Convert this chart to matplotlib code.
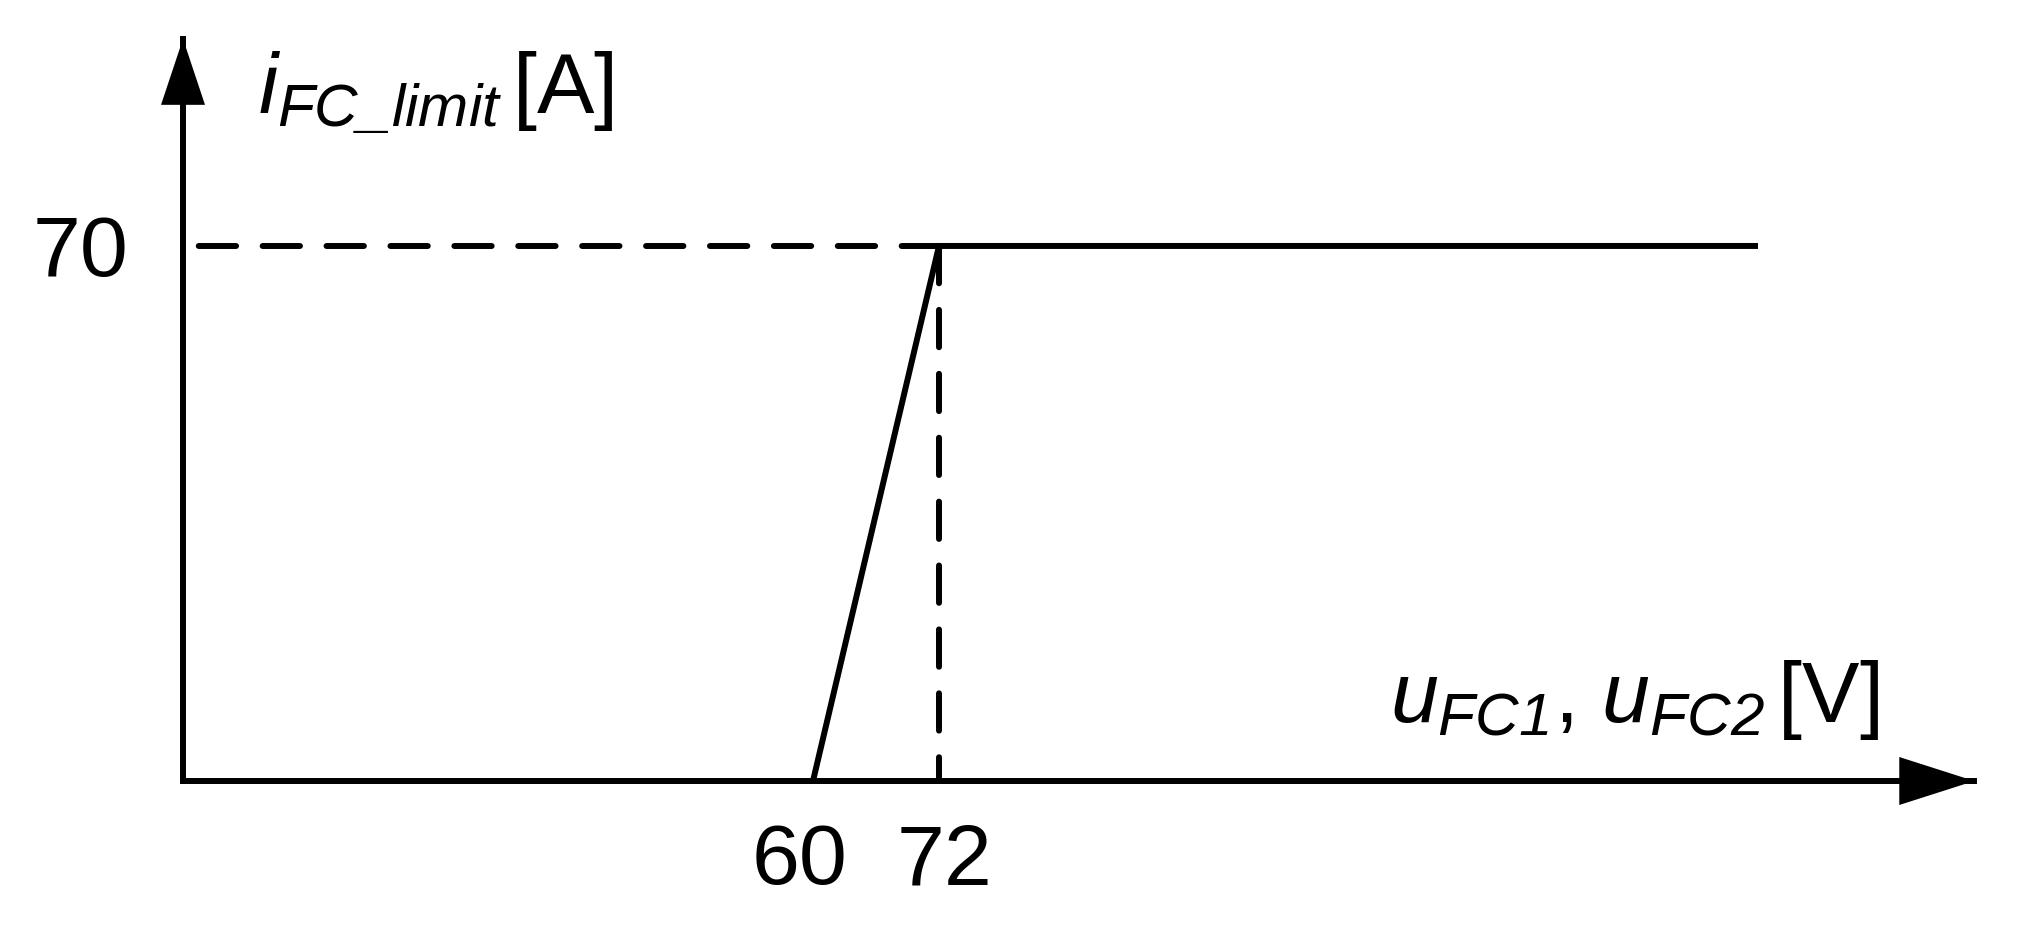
import matplotlib
matplotlib.use("Agg")
import matplotlib.pyplot as plt
from matplotlib.patches import Polygon
from matplotlib.transforms import IdentityTransform

# ---------------- data ----------------
curve_u = [60, 72, 150]          # u_FC [V]
curve_i = [0, 70, 70]            # i_FC_limit [A]
ref_u = 72                       # dashed reference voltage
ref_i = 70                       # dashed reference current
x_tick_values = [60, 72]
x_tick_labels = ["60", "72"]
y_tick_values = [70]
y_tick_labels = ["70"]
x_label = r"$u_{FC1}$, $u_{FC2}\,$[V]"
y_label = r"$i_{FC\_limit}\,$[A]"

# ---------------- style ----------------
W, H, DPI = 2021, 926, 100
plt.rcParams['font.family'] = ['Liberation Sans', 'DejaVu Sans']
plt.rcParams['mathtext.fontset'] = 'custom'
plt.rcParams['mathtext.rm'] = 'Liberation Sans:italic'
plt.rcParams['mathtext.it'] = 'Liberation Sans:italic'
plt.rcParams['mathtext.bf'] = 'Liberation Sans:bold'
plt.rcParams['mathtext.default'] = 'it'

FS = 62
AX_LW = 4.3
LINE_LW = 4.3
DASH = (0, (6.25, 4.45))

fig = plt.figure(figsize=(W / DPI, H / DPI), dpi=DPI)
ax = fig.add_axes([0, 0, 1, 1])
ax.set_xlim(-17.43, 175.05)
ax.set_ylim(-18.97, 102.18)
ax.axis('off')

X_END = 170.6   # axis extents (arrow tips)
Y_END = 97.1

# axes lines
ax.plot([0, X_END], [0, 0], color='black', lw=AX_LW, solid_capstyle='projecting', zorder=3)
ax.plot([0, 0], [0, Y_END], color='black', lw=AX_LW, solid_capstyle='projecting', zorder=3)

fig.canvas.draw()
def arrowhead(tip, direction, length, half_width):
    tx, ty = ax.transData.transform(tip)
    dx, dy = direction
    px, py = -dy, dx
    verts = [(tx, ty),
             (tx - dx * length + px * half_width, ty - dy * length + py * half_width),
             (tx - dx * length - px * half_width, ty - dy * length - py * half_width)]
    ax.add_patch(Polygon(verts, closed=True, facecolor='black', edgecolor='black',
                         lw=0, transform=IdentityTransform(), zorder=4))

arrowhead((X_END, 0), (1, 0), 75, 24)
arrowhead((0, Y_END), (0, 1), 66, 22)

# characteristic curve
ax.plot(curve_u, curve_i, color='black', lw=LINE_LW, solid_capstyle='butt',
        solid_joinstyle='miter', zorder=3)
# dashed helper lines, starting at the corner
ax.plot([ref_u, 0], [ref_i, ref_i], color='black', lw=LINE_LW, linestyle=DASH,
        dash_capstyle='round', zorder=2)
ax.plot([ref_u, ref_u], [ref_i, 0], color='black', lw=LINE_LW, linestyle=DASH,
        dash_capstyle='round', zorder=2)

# tick labels
x_tick_dx = [-13, 6]   # pixel offsets
for v, lab, dx in zip(x_tick_values, x_tick_labels, x_tick_dx):
    ax.annotate(lab, (v, 0), xytext=(dx * 72 / DPI, -103 * 72 / DPI),
                textcoords='offset points', ha='center', va='baseline', fontsize=FS)
for v, lab in zip(y_tick_values, y_tick_labels):
    ax.annotate(lab, (0, v), xytext=(-55 * 72 / DPI, -30 * 72 / DPI),
                textcoords='offset points', ha='right', va='baseline', fontsize=FS)

# axis labels
fig.text(258 / W, 1 - 114 / H, y_label, ha='left', va='baseline', fontsize=FS)
fig.text(1879 / W, 1 - 722 / H, x_label, ha='right', va='baseline', fontsize=FS)

fig.savefig("out.png", dpi=DPI, facecolor='white')
